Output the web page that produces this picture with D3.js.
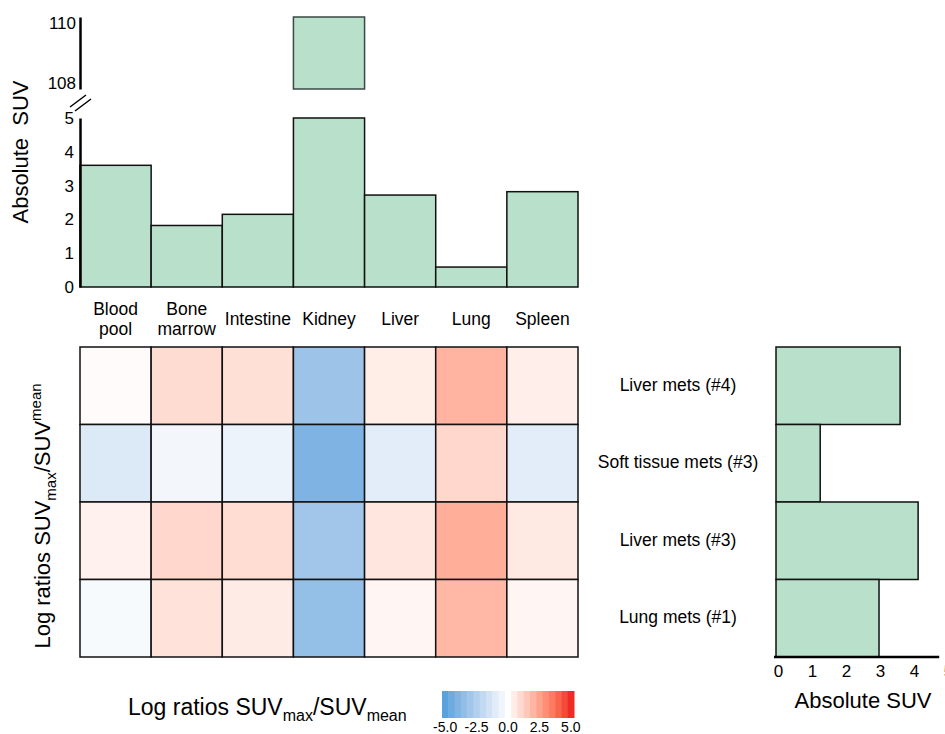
<!DOCTYPE html>
<html>
<head>
<meta charset="utf-8">
<script src="https://cdn.jsdelivr.net/npm/d3@7"></script>
<style>
  body { margin: 0; background: #fff; }
  svg { display: block; font-family: "Liberation Sans", Arial, Helvetica, sans-serif; }
</style>
</head>
<body>
<div id="chart"></div>
<script>
// data
const organs = ["Blood pool", "Bone marrow", "Intestine", "Kidney", "Liver", "Lung", "Spleen"];
const organSUV = [3.6, 1.82, 2.15, 110.2, 2.72, 0.59, 2.82];
const lesions = ["Liver mets (#4)", "Soft tissue mets (#3)", "Liver mets (#3)", "Lung mets (#1)"];
const lesionSUV = [3.65, 1.3, 4.18, 3.03];
// rows = lesions, columns = organs
const logRatios = [
  [0.1, 0.95, 0.85, -3.15, 0.5, 2.05, 0.45],
  [-1.15, -0.41, -0.63, -4.03, -0.92, 1.08, -0.94],
  [0.38, 1.07, 0.92, -3.04, 0.65, 2.18, 0.6],
  [-0.25, 0.76, 0.53, -3.42, 0.26, 1.92, 0.23]
];
const lowTicks = [0, 1, 2, 3, 4, 5];
const highTicks = [108, 110];
const rightTicks = [0, 1, 2, 3, 4, 5];
const legendTicks = [-5, -2.5, 0, 2.5, 5];

const width = 945, height = 734;
const barFill = "#b9e0cb";

const svg = d3.select("#chart").append("svg")
  .attr("width", width).attr("height", height);

// scales
const x = d3.scaleBand().domain(organs).range([80, 578]).padding(0);
const yLow = d3.scaleLinear().domain([0, 5]).range([287, 118]);
const yHigh = d3.scaleLinear().domain([107.8, 110.2]).range([89, 17]);
const yRow = d3.scaleBand().domain(lesions).range([347, 657]).padding(0);
const xr = d3.scaleLinear().domain([0, 5]).range([776, 946]);
const color = d3.scaleLinear().domain([-5, 0, 5])
  .range(["#5aa2dc", "#ffffff", "#ee2b24"])
  .interpolate(d3.interpolateLab);

const organData = organs.map((o, i) => ({ organ: o, v: organSUV[i] }));

// ---- top bar chart (broken axis) ----
const gTop = svg.append("g");
gTop.selectAll("rect.low")
  .data(organData)
  .join("rect")
    .attr("class", "low")
    .attr("x", d => x(d.organ))
    .attr("y", d => yLow(Math.min(d.v, 5)))
    .attr("width", x.bandwidth())
    .attr("height", d => yLow(0) - yLow(Math.min(d.v, 5)))
    .attr("fill", barFill)
    .attr("stroke", "#111")
    .attr("stroke-width", 1.5);

gTop.selectAll("rect.high")
  .data(organData.filter(d => d.v > yHigh.domain()[0]))
  .join("rect")
    .attr("class", "high")
    .attr("x", d => x(d.organ))
    .attr("y", d => yHigh(d.v))
    .attr("width", x.bandwidth())
    .attr("height", d => yHigh(yHigh.domain()[0]) - yHigh(d.v))
    .attr("fill", barFill)
    .attr("stroke", "#3a4a44")
    .attr("stroke-width", 1.5);

const axLow = gTop.append("g")
  .attr("transform", "translate(80,0)")
  .call(d3.axisLeft(yLow).tickValues(lowTicks).tickFormat(d3.format("d")).tickSize(0).tickPadding(6));
const axHigh = gTop.append("g")
  .attr("transform", "translate(80,0)")
  .call(d3.axisLeft(yHigh).tickValues(highTicks).tickFormat(d3.format("d")).tickSize(0).tickPadding(4));
[axLow, axHigh].forEach(a => {
  a.select(".domain").attr("stroke", "#000").attr("stroke-width", 2.5);
  a.selectAll("text").attr("font-size", 17).attr("fill", "#000")
    .attr("font-family", "Liberation Sans, Arial, sans-serif");
});

// break marks
gTop.append("path")
  .attr("d", "M70,107L86,95M75,111L91,99")
  .attr("stroke", "#000").attr("stroke-width", 1.5).attr("fill", "none");

gTop.append("text")
  .attr("transform", "translate(28,152) rotate(-90)")
  .attr("text-anchor", "middle")
  .attr("font-size", 22)
  .text("Absolute\u00A0\u00A0SUV");

// category labels
const catLabels = gTop.selectAll("text.cat")
  .data(organs)
  .join("text")
    .attr("class", "cat")
    .attr("text-anchor", "middle")
    .attr("font-size", 17.5)
    .attr("x", d => x(d) + x.bandwidth() / 2)
    .attr("y", d => d.includes(" ") ? 315 : 325);
catLabels.each(function (d) {
  const parts = d.split(" ");
  const t = d3.select(this);
  parts.forEach((p, i) => {
    t.append("tspan")
      .attr("x", x(d) + x.bandwidth() / 2)
      .attr("dy", i === 0 ? 0 : 20)
      .text(p);
  });
});

// ---- heatmap ----
const cells = [];
logRatios.forEach((row, r) => row.forEach((v, c) => cells.push({ lesion: lesions[r], organ: organs[c], v })));
svg.append("g").selectAll("rect")
  .data(cells)
  .join("rect")
    .attr("x", d => x(d.organ))
    .attr("y", d => yRow(d.lesion))
    .attr("width", x.bandwidth())
    .attr("height", yRow.bandwidth())
    .attr("fill", d => color(d.v))
    .attr("stroke", "#111")
    .attr("stroke-width", 1.5);

const leftLbl = svg.append("text")
  .attr("transform", "translate(50,516) rotate(-90)")
  .attr("text-anchor", "middle")
  .attr("font-size", 22);
leftLbl.append("tspan").text("Log ratios SUV");
leftLbl.append("tspan").attr("font-size", 15).attr("dy", 6).text("max");
leftLbl.append("tspan").attr("dy", -6).text("/SUV");
leftLbl.append("tspan").attr("font-size", 15).attr("dy", -9).text("mean");

// ---- right bar chart ----
const gR = svg.append("g");
gR.selectAll("text.row")
  .data(lesions)
  .join("text")
    .attr("class", "row")
    .attr("x", 678)
    .attr("y", d => yRow(d) + yRow.bandwidth() / 2 - 1)
    .attr("dy", "0.35em")
    .attr("text-anchor", "middle")
    .attr("font-size", 17.5)
    .text(d => d);

gR.selectAll("rect")
  .data(lesions.map((l, i) => ({ lesion: l, v: lesionSUV[i] })))
  .join("rect")
    .attr("x", xr(0))
    .attr("y", d => yRow(d.lesion))
    .attr("width", d => xr(d.v) - xr(0))
    .attr("height", yRow.bandwidth())
    .attr("fill", barFill)
    .attr("stroke", "#111")
    .attr("stroke-width", 1.5);

const axR = gR.append("g")
  .attr("transform", "translate(0,657)")
  .call(d3.axisBottom(xr).tickValues(rightTicks).tickFormat(d3.format("d")).tickSize(0).tickPadding(8));
axR.select(".domain").attr("d", `M${xr(0) - 2},0H${xr(4.8)}`)
  .attr("stroke", "#000").attr("stroke-width", 2.5);
axR.selectAll("text").attr("font-size", 17).attr("fill", "#000")
  .attr("font-family", "Liberation Sans, Arial, sans-serif")
  .attr("dx", 2);

gR.append("text")
  .attr("x", 863).attr("y", 708)
  .attr("text-anchor", "middle")
  .attr("font-size", 22)
  .text("Absolute SUV");

// ---- legend ----
const gL = svg.append("g");
const lt = gL.append("text").attr("x", 128).attr("y", 715).attr("font-size", 23);
lt.append("tspan").text("Log ratios SUV");
lt.append("tspan").attr("font-size", 16).attr("dy", 6).text("max");
lt.append("tspan").attr("dy", -6).text("/SUV");
lt.append("tspan").attr("font-size", 16).attr("dy", 6).text("mean");

const lx = d3.scaleLinear().domain([-5.25, 5.25]).range([442, 574]);
const steps = d3.range(-5, 5.01, 0.5);
gL.selectAll("rect")
  .data(steps)
  .join("rect")
    .attr("x", d => lx(d - 0.25))
    .attr("y", 691)
    .attr("width", d => lx(d + 0.25) - lx(d - 0.25) + 0.5)
    .attr("height", 27)
    .attr("fill", d => color(d));

gL.selectAll("text.tick")
  .data(legendTicks)
  .join("text")
    .attr("class", "tick")
    .attr("x", d => lx(d))
    .attr("y", 732)
    .attr("text-anchor", "middle")
    .attr("font-size", 14)
    .text(d => d3.format(".1f")(d).replace("\u2212", "-"));
</script>
</body>
</html>
